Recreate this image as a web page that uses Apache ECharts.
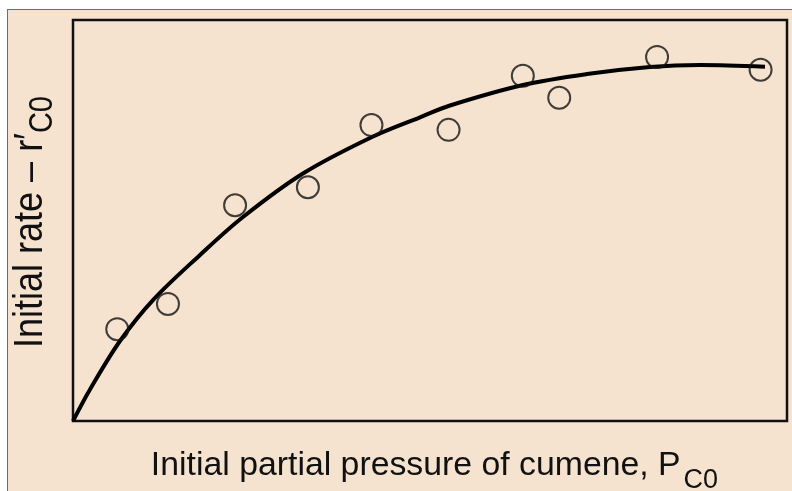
<!DOCTYPE html>
<html>
<head>
<meta charset="utf-8">
<script src="https://cdn.jsdelivr.net/npm/echarts@6/dist/echarts.min.js"></script>
<style>
  html, body { margin: 0; padding: 0; background: #ffffff; }
  #frame { position: absolute; left: 7px; top: 9px; width: 785px; height: 482px;
           background: #F5E3D0; border-left: 1px solid #4F6FB3; border-top: 1px solid #4F6FB3; box-sizing: border-box; }
  #chart { position: absolute; left: 0; top: 0; width: 792px; height: 491px; }
</style>
</head>
<body>
<div id="frame"></div>
<div id="chart"></div>
<script>
// Measured data points (arbitrary units, 0..10 on both axes)
const pressureObs = [0.62, 1.33, 2.27, 3.29, 4.18, 5.26, 6.30, 6.81, 8.18, 9.63];
const rateObs     = [2.29, 2.92, 5.38, 5.83, 7.38, 7.26, 8.61, 8.06, 9.08, 8.76];
// Fitted curve
const pressureFit = [0, 0.238, 0.658, 1.120, 1.779, 2.381, 3.221, 4.188, 4.860, 5.280, 6.303, 7.199, 8.081, 8.782, 9.692];
const rateFit     = [0, 0.786, 1.995, 3.017, 4.140, 5.087, 6.172, 7.082, 7.574, 7.868, 8.379, 8.653, 8.828, 8.878, 8.836];
// Axis titles
const xTitle = '{m|Initial partial pressure of cumene, P}{s|C0}';
const yTitle = '{m|Initial rate \u2013 r\u2032}{s|C0}';

const chart = echarts.init(document.getElementById('chart'), null, { renderer: 'canvas' });
const font = 'Liberation Sans, Arial, Helvetica, sans-serif';
chart.setOption({
  backgroundColor: 'transparent',
  animation: false,
  grid: { left: 73, right: 5, top: 20, bottom: 70, containLabel: false, outerBoundsMode: 'none',
          show: true, borderColor: '#111', borderWidth: 2.5, backgroundColor: 'transparent' },
  xAxis: {
    type: 'value', min: 0, max: 10,
    axisLine: { show: false }, axisTick: { show: false }, axisLabel: { show: false }, splitLine: { show: false },
    name: xTitle,
    nameLocation: 'middle', nameGap: 28,
    nameTextStyle: {
      rich: {
        m: { fontFamily: font, fontSize: 33.8, color: '#111', verticalAlign: 'top', padding: [0, 0, 0, 9] },
        s: { fontFamily: font, fontSize: 27, color: '#111', verticalAlign: 'top', padding: [18, 0, 0, 3] }
      }
    }
  },
  yAxis: {
    type: 'value', min: 0, max: 10,
    axisLine: { show: false }, axisTick: { show: false }, axisLabel: { show: false }, splitLine: { show: false }
  },
  graphic: [{
    type: 'text', x: 35, y: 222, rotation: Math.PI / 2, scaleX: 1, scaleY: 1.12,
    style: {
      text: yTitle, align: 'center', verticalAlign: 'middle', fill: '#111',
      rich: {
        m: { fontFamily: font, fontSize: 36, fill: '#111', verticalAlign: 'top' },
        s: { fontFamily: font, fontSize: 29, fill: '#111', verticalAlign: 'top', padding: [15, 0, 0, 0] }
      }
    }
  }],
  series: [
    {
      type: 'line', data: pressureFit.map((x, i) => [x, rateFit[i]]),
      smooth: 0.35, showSymbol: false, symbol: 'none',
      lineStyle: { color: '#000', width: 4 }, z: 2
    },
    {
      type: 'scatter', data: pressureObs.map((x, i) => [x, rateObs[i]]),
      symbol: 'circle', symbolSize: 22,
      itemStyle: { color: 'transparent', borderColor: '#111', borderWidth: 2 }, z: 3
    }
  ]
});
</script>
</body>
</html>
